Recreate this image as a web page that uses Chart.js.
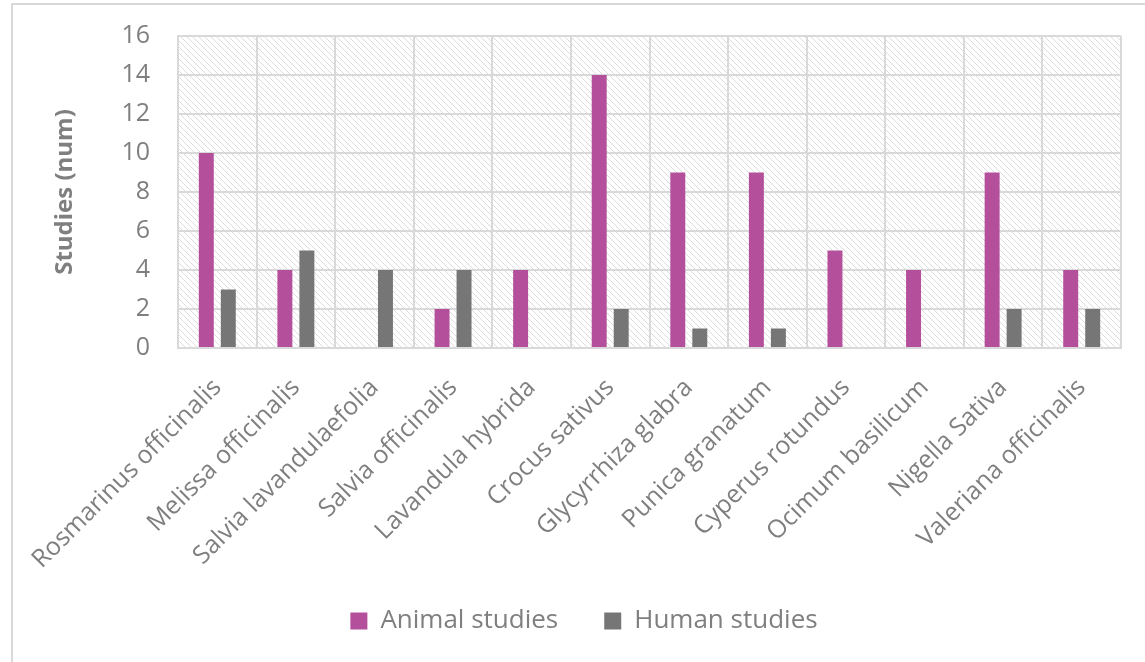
<!DOCTYPE html>
<html>
<head>
<meta charset="utf-8">
<script src="https://cdn.jsdelivr.net/npm/chart.js@4.4.1/dist/chart.umd.min.js"></script>
<style>
  html, body { margin: 0; padding: 0; background: #fff; overflow: hidden; }
  #frame {
    position: absolute; left: 11px; top: 3px; width: 1200px; height: 700px;
    border-left: 2px solid #d9d9d9; border-top: 2px solid #d9d9d9;
  }
  #wrap { position: absolute; left: 0; top: 0; width: 1145px; height: 662px; }
</style>
</head>
<body>
<div id="frame"></div>
<div id="wrap"><canvas id="studyChart"></canvas></div>
<script>
const plants = [
    "Rosmarinus officinalis", "Melissa officinalis", "Salvia lavandulaefolia",
    "Salvia officinalis", "Lavandula hybrida", "Crocus sativus",
    "Glycyrrhiza glabra", "Punica granatum", "Cyperus rotundus",
    "Ocimum basilicum", "Nigella Sativa", "Valeriana officinalis"
];
const animalStudies = [10, 4, 0, 2, 4, 14, 9, 9, 5, 4, 9, 4];
const humanStudies = [3, 5, 4, 4, 0, 2, 1, 1, 0, 0, 2, 2];

const textGray = "#7f7f7f";
const gridGray = "#d9d9d9";

// pixel staircase tile for the light diagonal hatch behind the bars
function makeHatchTile() {
    const size = 6;
    const tile = document.createElement("canvas");
    tile.width = size;
    tile.height = size;
    const t = tile.getContext("2d");
    t.fillStyle = "#ffffff";
    t.fillRect(0, 0, size, size);
    t.fillStyle = "#dcdcdc";
    for (let i = 0; i < size; i++) {
        t.fillRect(i, i, 1, 1);
    }
    return tile;
}

const hatchBackground = {
    id: "hatchBackground",
    beforeDraw(chart) {
        const { ctx, chartArea } = chart;
        const pattern = ctx.createPattern(makeHatchTile(), "repeat");
        ctx.save();
        ctx.fillStyle = pattern;
        ctx.fillRect(chartArea.left, chartArea.top,
            chartArea.right - chartArea.left, chartArea.bottom - chartArea.top);
        ctx.restore();
    }
};

Chart.defaults.font.family = "'Open Sans', Lato, sans-serif";
Chart.defaults.color = textGray;

new Chart(document.getElementById("studyChart"), {
    type: "bar",
    data: {
        labels: plants,
        datasets: [
            {
                label: "Animal studies",
                data: animalStudies,
                backgroundColor: "#b44f9c",
                categoryPercentage: 0.56,
                barPercentage: 0.68
            },
            {
                label: "Human studies",
                data: humanStudies,
                backgroundColor: "#767676",
                categoryPercentage: 0.56,
                barPercentage: 0.68
            }
        ]
    },
    plugins: [hatchBackground],
    options: {
        responsive: true,
        maintainAspectRatio: false,
        animation: false,
        layout: {
            padding: { left: 47, right: 24, top: 36, bottom: 18 }
        },
        plugins: {
            legend: {
                position: "bottom",
                labels: {
                    boxWidth: 17,
                    boxHeight: 17,
                    padding: 46,
                    font: { size: 26 },
                    color: textGray
                }
            },
            tooltip: { enabled: false }
        },
        scales: {
            x: {
                grid: { color: gridGray, lineWidth: 2, drawTicks: false },
                border: { color: gridGray, width: 2 },
                ticks: {
                    minRotation: 45,
                    maxRotation: 45,
                    padding: 25,
                    font: { size: 25 },
                    color: textGray
                },
                afterFit(scale) {
                    scale.height = 214;
                    // long rotated names run into the legend's top padding, so don't clip them
                    scale._computeLabelArea = () => undefined;
                }
            },
            y: {
                min: 0,
                max: 16,
                grid: { color: gridGray, lineWidth: 2, drawTicks: false },
                border: { color: gridGray, width: 2 },
                ticks: {
                    stepSize: 2,
                    padding: 28,
                    font: { size: 25 },
                    color: textGray
                },
                title: {
                    display: true,
                    text: "Studies (num)",
                    font: { size: 24, weight: "bold" },
                    color: textGray
                },
                afterFit(scale) {
                    scale.width = 131;
                    // tick padding is horizontal here; keep it out of the top/bottom reserve
                    scale.paddingTop = 15;
                    scale.paddingBottom = 15;
                }
            }
        }
    }
});
</script>
</body>
</html>
